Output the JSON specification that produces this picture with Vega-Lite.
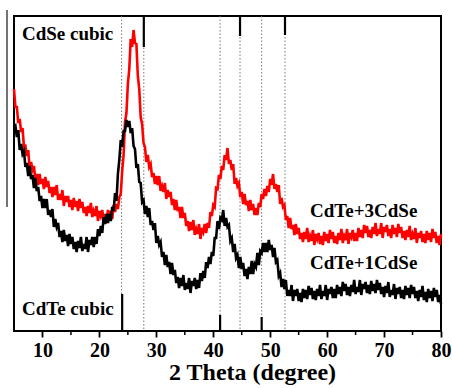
{
  "$schema": "https://vega.github.io/schema/vega-lite/v6.json",
  "width": 427,
  "height": 315,
  "autosize": {"type": "none"},
  "padding": {"left": 14, "top": 16, "right": 11, "bottom": 57},
  "background": "white",
  "config": {
    "view": {"stroke": "black", "strokeWidth": 2},
    "font": "Liberation Serif",
    "axisX": {
      "domain": false, "grid": false, "ticks": true, "tickSize": 6, "tickWidth": 1.8, "tickColor": "black",
      "labelFont": "Liberation Serif", "labelFontWeight": "bold", "labelFontSize": 20, "labelColor": "black", "labelPadding": 3,
      "labelFlush": false, "labelOverlap": false,
      "titleFont": "Liberation Serif", "titleFontWeight": "bold", "titleFontSize": 24, "titleColor": "black", "titlePadding": 0,
      "titleX": 238, "titleAlign": "center", "titleAnchor": null
    }
  },
  "datasets": {
    "red": [
{"t":5,"i":242},{"t":5.25,"i":224},{"t":5.5,"i":224},{"t":5.75,"i":208},{"t":6,"i":212},{"t":6.25,"i":199},{"t":6.5,"i":203},{"t":6.75,"i":184},{"t":7,"i":185},{"t":7.25,"i":175},{"t":7.5,"i":181},{"t":7.75,"i":162},{"t":8,"i":169},{"t":8.25,"i":161},{"t":8.5,"i":165},{"t":8.75,"i":152},{"t":9,"i":157},{"t":9.25,"i":146},{"t":9.5,"i":157},{"t":9.75,"i":147},
{"t":10,"i":152},{"t":10.25,"i":142},{"t":10.5,"i":154},{"t":10.75,"i":144},{"t":11,"i":150},{"t":11.25,"i":138},{"t":11.5,"i":144},{"t":11.75,"i":134},{"t":12,"i":144},{"t":12.25,"i":136},{"t":12.5,"i":146},{"t":12.75,"i":131},{"t":13,"i":137},{"t":13.25,"i":131},{"t":13.5,"i":141},{"t":13.75,"i":125},{"t":14,"i":135},{"t":14.25,"i":129},{"t":14.5,"i":135},{"t":14.75,"i":124},
{"t":15,"i":131},{"t":15.25,"i":121},{"t":15.5,"i":133},{"t":15.75,"i":124},{"t":16,"i":130},{"t":16.25,"i":120},{"t":16.5,"i":132},{"t":16.75,"i":123},{"t":17,"i":129},{"t":17.25,"i":118},{"t":17.5,"i":124},{"t":17.75,"i":115},{"t":18,"i":125},{"t":18.25,"i":118},{"t":18.5,"i":128},{"t":18.75,"i":114},{"t":19,"i":120},{"t":19.25,"i":115},{"t":19.5,"i":125},{"t":19.75,"i":110},
{"t":20,"i":120},{"t":20.25,"i":115},{"t":20.5,"i":121},{"t":20.75,"i":110},{"t":21,"i":117},{"t":21.25,"i":108},{"t":21.5,"i":121},{"t":21.75,"i":113},{"t":22,"i":120},{"t":22.25,"i":112},{"t":22.5,"i":126},{"t":22.75,"i":119},{"t":23,"i":127},{"t":23.25,"i":122},{"t":23.5,"i":134},{"t":23.75,"i":137},{"t":24,"i":160},{"t":24.25,"i":176},{"t":24.5,"i":209},{"t":24.75,"i":218},
{"t":25,"i":247},{"t":25.25,"i":262},{"t":25.5,"i":292},{"t":25.75,"i":284},{"t":26,"i":301},{"t":26.25,"i":288},{"t":26.5,"i":287},{"t":26.75,"i":255},{"t":27,"i":242},{"t":27.25,"i":214},{"t":27.5,"i":207},{"t":27.75,"i":188},{"t":28,"i":184},{"t":28.25,"i":169},{"t":28.5,"i":176},{"t":28.75,"i":164},{"t":29,"i":167},{"t":29.25,"i":154},{"t":29.5,"i":158},{"t":29.75,"i":147},
{"t":30,"i":155},{"t":30.25,"i":146},{"t":30.5,"i":155},{"t":30.75,"i":140},{"t":31,"i":145},{"t":31.25,"i":139},{"t":31.5,"i":148},{"t":31.75,"i":132},{"t":32,"i":141},{"t":32.25,"i":134},{"t":32.5,"i":139},{"t":32.75,"i":126},{"t":33,"i":132},{"t":33.25,"i":121},{"t":33.5,"i":131},{"t":33.75,"i":120},{"t":34,"i":124},{"t":34.25,"i":113},{"t":34.5,"i":124},{"t":34.75,"i":113},
{"t":35,"i":118},{"t":35.25,"i":105},{"t":35.5,"i":110},{"t":35.75,"i":100},{"t":36,"i":109},{"t":36.25,"i":101},{"t":36.5,"i":111},{"t":36.75,"i":96},{"t":37,"i":102},{"t":37.25,"i":97},{"t":37.5,"i":107},{"t":37.75,"i":92},{"t":38,"i":103},{"t":38.25,"i":99},{"t":38.5,"i":107},{"t":38.75,"i":98},{"t":39,"i":108},{"t":39.25,"i":103},{"t":39.5,"i":119},{"t":39.75,"i":115},
{"t":40,"i":126},{"t":40.25,"i":124},{"t":40.5,"i":143},{"t":40.75,"i":142},{"t":41,"i":156},{"t":41.25,"i":152},{"t":41.5,"i":165},{"t":41.75,"i":161},{"t":42,"i":176},{"t":42.25,"i":171},{"t":42.5,"i":183},{"t":42.75,"i":167},{"t":43,"i":171},{"t":43.25,"i":161},{"t":43.5,"i":167},{"t":43.75,"i":147},{"t":44,"i":153},{"t":44.25,"i":145},{"t":44.5,"i":148},{"t":44.75,"i":134},
{"t":45,"i":139},{"t":45.25,"i":127},{"t":45.5,"i":137},{"t":45.75,"i":126},{"t":46,"i":130},{"t":46.25,"i":120},{"t":46.5,"i":131},{"t":46.75,"i":121},{"t":47,"i":127},{"t":47.25,"i":116},{"t":47.5,"i":123},{"t":47.75,"i":116},{"t":48,"i":128},{"t":48.25,"i":124},{"t":48.5,"i":137},{"t":48.75,"i":132},{"t":49,"i":142},{"t":49.25,"i":135},{"t":49.5,"i":145},{"t":49.75,"i":139},
{"t":50,"i":152},{"t":50.25,"i":146},{"t":50.5,"i":157},{"t":50.75,"i":142},{"t":51,"i":147},{"t":51.25,"i":139},{"t":51.5,"i":146},{"t":51.75,"i":127},{"t":52,"i":133},{"t":52.25,"i":124},{"t":52.5,"i":126},{"t":52.75,"i":111},{"t":53,"i":115},{"t":53.25,"i":103},{"t":53.5,"i":113},{"t":53.75,"i":102},{"t":54,"i":106},{"t":54.25,"i":96},{"t":54.5,"i":107},{"t":54.75,"i":97},
{"t":55,"i":103},{"t":55.25,"i":92},{"t":55.5,"i":98},{"t":55.75,"i":89},{"t":56,"i":99},{"t":56.25,"i":92},{"t":56.5,"i":103},{"t":56.75,"i":89},{"t":57,"i":95},{"t":57.25,"i":90},{"t":57.5,"i":101},{"t":57.75,"i":86},{"t":58,"i":97},{"t":58.25,"i":92},{"t":58.5,"i":98},{"t":58.75,"i":87},{"t":59,"i":95},{"t":59.25,"i":86},{"t":59.5,"i":99},{"t":59.75,"i":90},
{"t":60,"i":97},{"t":60.25,"i":88},{"t":60.5,"i":101},{"t":60.75,"i":92},{"t":61,"i":99},{"t":61.25,"i":88},{"t":61.5,"i":95},{"t":61.75,"i":87},{"t":62,"i":98},{"t":62.25,"i":91},{"t":62.5,"i":102},{"t":62.75,"i":88},{"t":63,"i":95},{"t":63.25,"i":91},{"t":63.5,"i":102},{"t":63.75,"i":87},{"t":64,"i":98},{"t":64.25,"i":94},{"t":64.5,"i":101},{"t":64.75,"i":90},
{"t":65,"i":98},{"t":65.25,"i":90},{"t":65.5,"i":103},{"t":65.75,"i":94},{"t":66,"i":101},{"t":66.25,"i":93},{"t":66.5,"i":106},{"t":66.75,"i":98},{"t":67,"i":105},{"t":67.25,"i":94},{"t":67.5,"i":101},{"t":67.75,"i":93},{"t":68,"i":104},{"t":68.25,"i":97},{"t":68.5,"i":108},{"t":68.75,"i":95},{"t":69,"i":102},{"t":69.25,"i":97},{"t":69.5,"i":108},{"t":69.75,"i":93},
{"t":70,"i":104},{"t":70.25,"i":99},{"t":70.5,"i":106},{"t":70.75,"i":95},{"t":71,"i":102},{"t":71.25,"i":93},{"t":71.5,"i":106},{"t":71.75,"i":97},{"t":72,"i":103},{"t":72.25,"i":94},{"t":72.5,"i":107},{"t":72.75,"i":98},{"t":73,"i":104},{"t":73.25,"i":93},{"t":73.5,"i":100},{"t":73.75,"i":91},{"t":74,"i":101},{"t":74.25,"i":94},{"t":74.5,"i":105},{"t":74.75,"i":91},
{"t":75,"i":97},{"t":75.25,"i":92},{"t":75.5,"i":103},{"t":75.75,"i":88},{"t":76,"i":98},{"t":76.25,"i":93},{"t":76.5,"i":100},{"t":76.75,"i":89},{"t":77,"i":97},{"t":77.25,"i":88},{"t":77.5,"i":100},{"t":77.75,"i":91},{"t":78,"i":98},{"t":78.25,"i":89},{"t":78.5,"i":102},{"t":78.75,"i":93},{"t":79,"i":99},{"t":79.25,"i":88},{"t":79.5,"i":95},{"t":79.75,"i":86},
{"t":80,"i":97}
    ],
    "black": [
{"t":5,"i":203},{"t":5.25,"i":205},{"t":5.5,"i":194},{"t":5.75,"i":201},{"t":6,"i":181},{"t":6.25,"i":187},{"t":6.5,"i":177},{"t":6.75,"i":180},{"t":7,"i":164},{"t":7.25,"i":168},{"t":7.5,"i":155},{"t":7.75,"i":165},{"t":8,"i":152},{"t":8.25,"i":156},{"t":8.5,"i":143},{"t":8.75,"i":153},{"t":9,"i":140},{"t":9.25,"i":144},{"t":9.5,"i":130},{"t":9.75,"i":135},
{"t":10,"i":123},{"t":10.25,"i":132},{"t":10.5,"i":123},{"t":10.75,"i":132},{"t":11,"i":116},{"t":11.25,"i":121},{"t":11.5,"i":114},{"t":11.75,"i":122},{"t":12,"i":104},{"t":12.25,"i":112},{"t":12.5,"i":104},{"t":12.75,"i":108},{"t":13,"i":94},{"t":13.25,"i":100},{"t":13.5,"i":89},{"t":13.75,"i":101},{"t":14,"i":90},{"t":14.25,"i":96},{"t":14.5,"i":85},{"t":14.75,"i":97},
{"t":15,"i":87},{"t":15.25,"i":94},{"t":15.5,"i":82},{"t":15.75,"i":89},{"t":16,"i":79},{"t":16.25,"i":90},{"t":16.5,"i":83},{"t":16.75,"i":94},{"t":17,"i":80},{"t":17.25,"i":87},{"t":17.5,"i":82},{"t":17.75,"i":94},{"t":18,"i":79},{"t":18.25,"i":91},{"t":18.5,"i":86},{"t":18.75,"i":94},{"t":19,"i":84},{"t":19.25,"i":94},{"t":19.5,"i":87},{"t":19.75,"i":102},
{"t":20,"i":95},{"t":20.25,"i":105},{"t":20.5,"i":98},{"t":20.75,"i":114},{"t":21,"i":107},{"t":21.25,"i":117},{"t":21.5,"i":108},{"t":21.75,"i":117},{"t":22,"i":110},{"t":22.25,"i":124},{"t":22.5,"i":120},{"t":22.75,"i":138},{"t":23,"i":130},{"t":23.25,"i":157},{"t":23.5,"i":171},{"t":23.75,"i":191},{"t":24,"i":184},{"t":24.25,"i":200},{"t":24.5,"i":200},{"t":24.75,"i":211},
{"t":25,"i":204},{"t":25.25,"i":210},{"t":25.5,"i":198},{"t":25.75,"i":203},{"t":26,"i":185},{"t":26.25,"i":182},{"t":26.5,"i":163},{"t":26.75,"i":167},{"t":27,"i":149},{"t":27.25,"i":148},{"t":27.5,"i":129},{"t":27.75,"i":131},{"t":28,"i":117},{"t":28.25,"i":125},{"t":28.5,"i":114},{"t":28.75,"i":123},{"t":29,"i":106},{"t":29.25,"i":110},{"t":29.5,"i":101},{"t":29.75,"i":108},
{"t":30,"i":88},{"t":30.25,"i":95},{"t":30.5,"i":86},{"t":30.75,"i":89},{"t":31,"i":74},{"t":31.25,"i":79},{"t":31.5,"i":66},{"t":31.75,"i":76},{"t":32,"i":64},{"t":32.25,"i":69},{"t":32.5,"i":57},{"t":32.75,"i":68},{"t":33,"i":56},{"t":33.25,"i":61},{"t":33.5,"i":48},{"t":33.75,"i":54},{"t":34,"i":43},{"t":34.25,"i":53},{"t":34.5,"i":45},{"t":34.75,"i":56},
{"t":35,"i":41},{"t":35.25,"i":48},{"t":35.5,"i":42},{"t":35.75,"i":53},{"t":36,"i":38},{"t":36.25,"i":50},{"t":36.5,"i":45},{"t":36.75,"i":53},{"t":37,"i":42},{"t":37.25,"i":51},{"t":37.5,"i":43},{"t":37.75,"i":58},{"t":38,"i":50},{"t":38.25,"i":60},{"t":38.5,"i":53},{"t":38.75,"i":69},{"t":39,"i":63},{"t":39.25,"i":74},{"t":39.5,"i":67},{"t":39.75,"i":79},
{"t":40,"i":75},{"t":40.25,"i":93},{"t":40.5,"i":93},{"t":40.75,"i":110},{"t":41,"i":102},{"t":41.25,"i":113},{"t":41.5,"i":111},{"t":41.75,"i":121},{"t":42,"i":105},{"t":42.25,"i":113},{"t":42.5,"i":104},{"t":42.75,"i":106},{"t":43,"i":90},{"t":43.25,"i":93},{"t":43.5,"i":79},{"t":43.75,"i":87},{"t":44,"i":73},{"t":44.25,"i":76},{"t":44.5,"i":63},{"t":44.75,"i":74},
{"t":45,"i":62},{"t":45.25,"i":68},{"t":45.5,"i":55},{"t":45.75,"i":62},{"t":46,"i":52},{"t":46.25,"i":64},{"t":46.5,"i":57},{"t":46.75,"i":70},{"t":47,"i":57},{"t":47.25,"i":67},{"t":47.5,"i":64},{"t":47.75,"i":78},{"t":48,"i":66},{"t":48.25,"i":80},{"t":48.5,"i":78},{"t":48.75,"i":88},{"t":49,"i":79},{"t":49.25,"i":88},{"t":49.5,"i":79},{"t":49.75,"i":91},
{"t":50,"i":81},{"t":50.25,"i":86},{"t":50.5,"i":74},{"t":50.75,"i":83},{"t":51,"i":69},{"t":51.25,"i":71},{"t":51.5,"i":55},{"t":51.75,"i":58},{"t":52,"i":44},{"t":52.25,"i":52},{"t":52.5,"i":42},{"t":52.75,"i":51},{"t":53,"i":35},{"t":53.25,"i":41},{"t":53.5,"i":35},{"t":53.75,"i":46},{"t":54,"i":30},{"t":54.25,"i":41},{"t":54.5,"i":35},{"t":54.75,"i":42},
{"t":55,"i":30},{"t":55.25,"i":38},{"t":55.5,"i":29},{"t":55.75,"i":42},{"t":56,"i":33},{"t":56.25,"i":41},{"t":56.5,"i":32},{"t":56.75,"i":45},{"t":57,"i":36},{"t":57.25,"i":43},{"t":57.5,"i":32},{"t":57.75,"i":40},{"t":58,"i":31},{"t":58.25,"i":42},{"t":58.5,"i":35},{"t":58.75,"i":46},{"t":59,"i":32},{"t":59.25,"i":40},{"t":59.5,"i":35},{"t":59.75,"i":46},
{"t":60,"i":31},{"t":60.25,"i":42},{"t":60.5,"i":37},{"t":60.75,"i":44},{"t":61,"i":33},{"t":61.25,"i":42},{"t":61.5,"i":33},{"t":61.75,"i":46},{"t":62,"i":37},{"t":62.25,"i":44},{"t":62.5,"i":35},{"t":62.75,"i":49},{"t":63,"i":40},{"t":63.25,"i":47},{"t":63.5,"i":36},{"t":63.75,"i":44},{"t":64,"i":35},{"t":64.25,"i":46},{"t":64.5,"i":39},{"t":64.75,"i":51},
{"t":65,"i":37},{"t":65.25,"i":44},{"t":65.5,"i":39},{"t":65.75,"i":51},{"t":66,"i":36},{"t":66.25,"i":47},{"t":66.5,"i":42},{"t":66.75,"i":49},{"t":67,"i":38},{"t":67.25,"i":46},{"t":67.5,"i":37},{"t":67.75,"i":50},{"t":68,"i":40},{"t":68.25,"i":47},{"t":68.5,"i":38},{"t":68.75,"i":51},{"t":69,"i":41},{"t":69.25,"i":48},{"t":69.5,"i":37},{"t":69.75,"i":44},
{"t":70,"i":34},{"t":70.25,"i":45},{"t":70.5,"i":38},{"t":70.75,"i":49},{"t":71,"i":34},{"t":71.25,"i":41},{"t":71.5,"i":36},{"t":71.75,"i":47},{"t":72,"i":32},{"t":72.25,"i":43},{"t":72.5,"i":37},{"t":72.75,"i":44},{"t":73,"i":33},{"t":73.25,"i":41},{"t":73.5,"i":32},{"t":73.75,"i":45},{"t":74,"i":36},{"t":74.25,"i":43},{"t":74.5,"i":33},{"t":74.75,"i":46},
{"t":75,"i":37},{"t":75.25,"i":44},{"t":75.5,"i":33},{"t":75.75,"i":40},{"t":76,"i":30},{"t":76.25,"i":41},{"t":76.5,"i":34},{"t":76.75,"i":45},{"t":77,"i":31},{"t":77.25,"i":39},{"t":77.5,"i":29},{"t":77.75,"i":42},{"t":78,"i":33},{"t":78.25,"i":40},{"t":78.5,"i":30},{"t":78.75,"i":43},{"t":79,"i":34},{"t":79.25,"i":41},{"t":79.5,"i":29},{"t":79.75,"i":36},
{"t":80,"i":27}
    ],
    "refs": [{"t":23.9},{"t":27.8},{"t":41.2},{"t":44.7},{"t":48.5},{"t":52.6}],
    "sticks": [
      {"t":27.8,"i":284,"i2":315},{"t":44.7,"i":295,"i2":315},{"t":52.6,"i":296,"i2":315},
      {"t":24.0,"i":0,"i2":37},{"t":41.2,"i":0,"i2":16},{"t":48.5,"i":0,"i2":14}
    ],
    "minor": [{"t":15,"i":0,"i2":-4},{"t":25,"i":0,"i2":-4},{"t":35,"i":0,"i2":-4},{"t":45,"i":0,"i2":-4},{"t":55,"i":0,"i2":-4},{"t":65,"i":0,"i2":-4},{"t":75,"i":0,"i2":-4}],
    "labels": [
      {"t":6.4,"i":297,"label":"CdSe cubic"},
      {"t":6.4,"i":22,"label":"CdTe cubic"},
      {"t":57,"i":120,"label":"CdTe+3CdSe"},
      {"t":57,"i":68,"label":"CdTe+1CdSe"}
    ],
    "edge": [{"t":3.77,"i":124,"i2":321}]
  },
  "layer": [
    {
      "data": {"name": "refs"},
      "mark": {"type": "rule", "color": "#777777", "strokeWidth": 1, "strokeDash": [1.5, 2]},
      "encoding": {
        "x": {"field": "t", "type": "quantitative", "scale": {"domain": [5, 80], "nice": false, "zero": false}, "title": "2 Theta (degree)",
              "axis": {"values": [10,20,30,40,50,60,70,80]}}
      }
    },
    {
      "data": {"name": "red"},
      "mark": {"type": "line", "color": "#ff0000", "strokeWidth": 2.6},
      "encoding": {
        "x": {"field": "t", "type": "quantitative", "title": "2 Theta (degree)"},
        "y": {"field": "i", "type": "quantitative", "scale": {"domain": [0, 315], "nice": false, "zero": false}, "axis": null}
      }
    },
    {
      "data": {"name": "black"},
      "mark": {"type": "line", "color": "#000000", "strokeWidth": 2.6},
      "encoding": {
        "x": {"field": "t", "type": "quantitative", "title": "2 Theta (degree)"},
        "y": {"field": "i", "type": "quantitative", "axis": null}
      }
    },
    {
      "data": {"name": "sticks"},
      "mark": {"type": "rule", "color": "black", "strokeWidth": 2.2},
      "encoding": {
        "x": {"field": "t", "type": "quantitative", "title": "2 Theta (degree)"},
        "y": {"field": "i", "type": "quantitative", "axis": null},
        "y2": {"field": "i2"}
      }
    },
    {
      "data": {"name": "minor"},
      "mark": {"type": "rule", "color": "black", "strokeWidth": 1.5, "clip": false},
      "encoding": {
        "x": {"field": "t", "type": "quantitative", "title": "2 Theta (degree)"},
        "y": {"field": "i", "type": "quantitative", "axis": null},
        "y2": {"field": "i2"}
      }
    },
    {
      "data": {"name": "edge"},
      "mark": {"type": "rule", "color": "#444444", "strokeWidth": 1.5, "clip": false},
      "encoding": {
        "x": {"field": "t", "type": "quantitative", "title": "2 Theta (degree)"},
        "y": {"field": "i", "type": "quantitative", "axis": null},
        "y2": {"field": "i2"}
      }
    },
    {
      "data": {"name": "labels"},
      "mark": {"type": "text", "align": "left", "baseline": "middle", "font": "Liberation Serif", "fontWeight": "bold", "fontSize": 19, "color": "black"},
      "encoding": {
        "x": {"field": "t", "type": "quantitative", "title": "2 Theta (degree)"},
        "y": {"field": "i", "type": "quantitative", "axis": null},
        "text": {"field": "label"}
      }
    }
  ]
}
